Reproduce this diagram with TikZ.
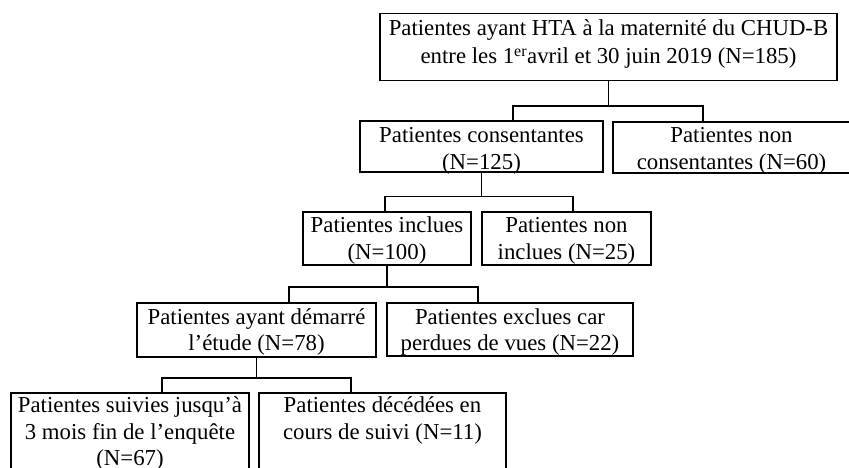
\documentclass[tikz,border=0pt]{standalone}
\usepackage{fontspec}
\setmainfont{Liberation Serif}
\begin{document}
\begin{tikzpicture}[x=1pt,y=-1pt,
  box/.style={draw, line width=1.9pt, inner sep=0pt, rectangle},
  txt/.style={align=center, inner sep=0pt, anchor=north, font=\fontsize{22.8}{26.5}\selectfont},
  link/.style={line width=1.9pt}]
\clip (0,0) rectangle (849,468);
% boxes
\node[box, minimum width=457pt, minimum height=67pt] (A) at (608.5,47) {};
\node[box, minimum width=243pt, minimum height=51pt] (B) at (481.5,146.5) {};
\node[box, minimum width=237pt, minimum height=51pt] (C) at (731.5,147.5) {};
\node[box, minimum width=168pt, minimum height=53pt] (D) at (387,238.5) {};
\node[box, minimum width=169pt, minimum height=53pt] (E) at (566.5,238.5) {};
\node[box, minimum width=239pt, minimum height=54pt] (F) at (256.5,330) {};
\node[box, minimum width=246pt, minimum height=53pt] (G) at (510,329.5) {};
\node[box, minimum width=238pt, minimum height=82pt] (H) at (130,434) {};
\node[box, minimum width=247pt, minimum height=82pt] (I) at (382.5,434) {};
% texts
\node[txt, font=\fontsize{22.8}{28}\selectfont, yshift=-3.4pt] (tA) at (A.north) {\strut Patientes ayant HTA à la maternité du CHUD-B\\entre les 1\textsuperscript{er}avril et 30 juin 2019 (N=185)};
\node[txt, yshift=-4pt] (tB) at (B.north) {\strut Patientes consentantes\\(N=125)};
\node[txt, yshift=-3pt] (tC) at (C.north) {\strut Patientes non\\consentantes (N=60)};
\node[txt, yshift=-2.7pt] (tD) at (D.north) {\strut Patientes inclues\\(N=100)};
\node[txt, yshift=-2.7pt] (tE) at (E.north) {\strut Patientes non\\inclues (N=25)};
\node[txt, yshift=-3.4pt] (tF) at (F.north) {\strut Patientes ayant démarré\\l’étude (N=78)};
\node[txt, yshift=-3.4pt] (tG) at (G.north) {\strut Patientes exclues car\\perdues de vues (N=22)};
\node[txt, yshift=-1.7pt] (tH) at (H.north) {\strut Patientes suivies jusqu’à\\3 mois fin de l’enquête\\(N=67)};
\node[txt, yshift=-1.7pt] (tI) at (I.north) {\strut Patientes décédées en\\cours de suivi (N=11)};
% connectors
\draw[link] (A.south) -- ++(0,25) coordinate (jA);
\draw[link] ([xshift=31.5pt]B.north) |- (jA) -| ([xshift=-28.5pt]C.north);
\draw[link] (B.south) -- ++(0,23.5) coordinate (jB);
\draw[link] ([xshift=-2pt]D.north) |- (jB) -| ([xshift=6.5pt]E.north);
\draw[link] (D.south) -- ++(0,21) coordinate (jD);
\draw[link] ([xshift=32.5pt]F.north) |- (jD) -| ([xshift=-32pt]G.north);
\draw[link] (F.south) -- ++(0,20) coordinate (jF);
\draw[link] ([xshift=32pt]H.north) |- (jF) -| ([xshift=-31.5pt]I.north);
\end{tikzpicture}
\end{document}
